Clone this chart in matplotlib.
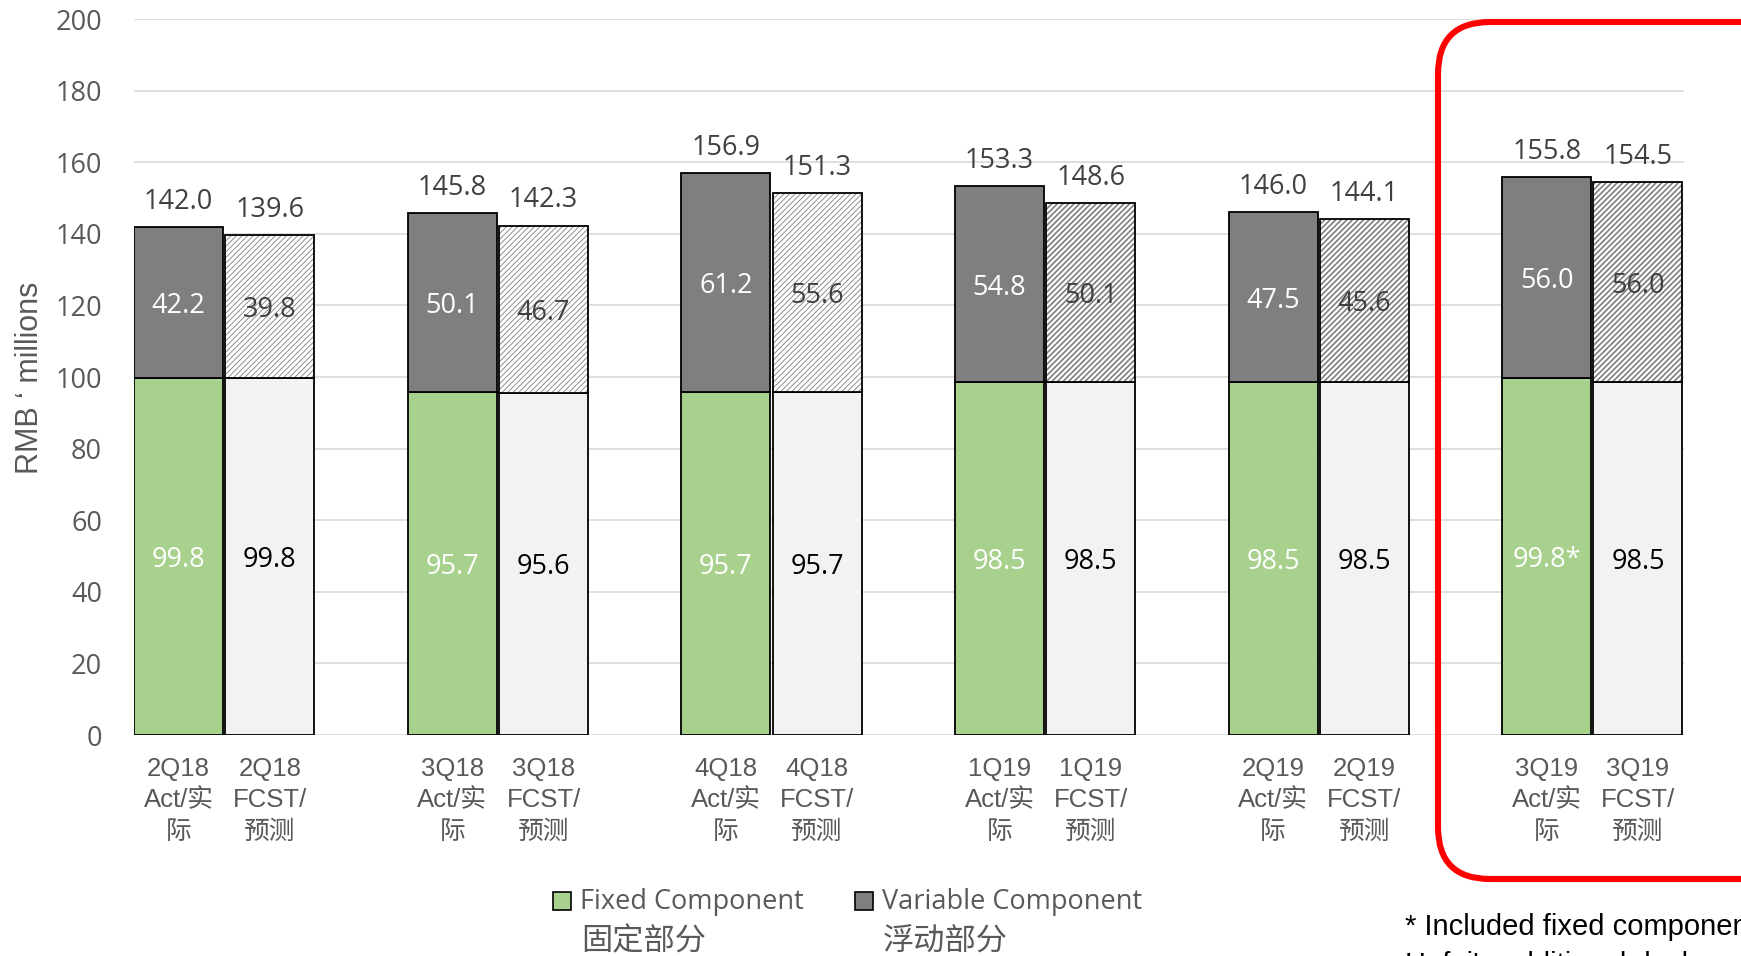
import matplotlib
matplotlib.use("Agg")
import matplotlib.pyplot as plt
import numpy as np
from matplotlib.patches import Rectangle, FancyBboxPatch
from matplotlib.transforms import IdentityTransform

# ---- data -------------------------------------------------------------
quarters = ["2Q18", "3Q18", "4Q18", "1Q19", "2Q19", "3Q19"]
fixed_act = [99.8, 95.7, 95.7, 98.5, 98.5, 99.8]
fixed_fcst = [99.8, 95.6, 95.7, 98.5, 98.5, 98.5]
var_act = [42.2, 50.1, 61.2, 54.8, 47.5, 56.0]
var_fcst = [39.8, 46.7, 55.6, 50.1, 45.6, 56.0]
total_act = [142.0, 145.8, 156.9, 153.3, 146.0, 155.8]
total_fcst = [139.6, 142.3, 151.3, 148.6, 144.1, 154.5]
fixed_act_labels = ["99.8", "95.7", "95.7", "98.5", "98.5", "99.8*"]
yticks = list(range(0, 201, 20))

# ---- styling ----------------------------------------------------------
GREEN = "#A9D18E"
DARK = "#7F7F7F"
LIGHT = "#F2F2F2"
TXT = "#404040"
TICK = "#595959"
NUM_FONT = ["Open Sans", "Noto Sans CJK SC", "DejaVu Sans"]
ARIAL = ["Liberation Sans", "Noto Sans CJK SC", "DejaVu Sans"]
NUM_SIZE = 19.5

W, H = 1741, 956
fig = plt.figure(figsize=(W / 100, H / 100), dpi=100)
ax = fig.add_axes([134 / W, 1 - 735 / H, (1684 - 134) / W, (735 - 19) / H])

g = np.arange(len(quarters))
off = 0.1667
bw = 0.325
xa = g - off
xf = g + off

edge_kw = dict(edgecolor="black", linewidth=1.3)

# actual bars
ax.bar(xa, fixed_act, bw, color=GREEN, zorder=3, **edge_kw)
ax.bar(xa, var_act, bw, bottom=fixed_act, color=DARK, zorder=3, **edge_kw)

# forecast bars
ax.bar(xf, fixed_fcst, bw, color=LIGHT, zorder=3, **edge_kw)
hatched = ax.bar(xf, var_fcst, bw, bottom=fixed_fcst, color="white",
                 hatch="//////", edgecolor=DARK, linewidth=0, zorder=3)
for i, p in enumerate(hatched):
    try:
        p.set_hatch_linewidth(0.6 if i < 3 else 1.2)
    except AttributeError:
        plt.rcParams["hatch.linewidth"] = 0.9
ax.bar(xf, var_fcst, bw, bottom=fixed_fcst, fill=False, zorder=4, **edge_kw)

# value labels
for i in range(len(quarters)):
    ax.annotate(f"{total_act[i]:.1f}", (xa[i], total_act[i]), xytext=(0, 8),
                textcoords="offset points", ha="center", va="bottom",
                fontsize=NUM_SIZE, color=TXT, family=NUM_FONT, zorder=5)
    ax.annotate(f"{total_fcst[i]:.1f}", (xf[i], total_fcst[i]), xytext=(0, 8),
                textcoords="offset points", ha="center", va="bottom",
                fontsize=NUM_SIZE, color=TXT, family=NUM_FONT, zorder=5)
    ax.text(xa[i], fixed_act[i] + var_act[i] / 2, f"{var_act[i]:.1f}",
            ha="center", va="center_baseline", fontsize=NUM_SIZE,
            color="white", family=NUM_FONT, zorder=5)
    ax.text(xf[i], fixed_fcst[i] + var_fcst[i] / 2, f"{var_fcst[i]:.1f}",
            ha="center", va="center_baseline", fontsize=NUM_SIZE, color=TXT,
            family=NUM_FONT, zorder=5)
    ax.text(xa[i], fixed_act[i] / 2, fixed_act_labels[i], ha="center",
            va="center_baseline", fontsize=NUM_SIZE, color="white",
            family=NUM_FONT, zorder=5)
    ax.text(xf[i], fixed_fcst[i] / 2, f"{fixed_fcst[i]:.1f}", ha="center",
            va="center_baseline", fontsize=NUM_SIZE, color="black",
            family=NUM_FONT, zorder=5)

# axes
ax.set_xlim(-0.33, len(quarters) - 1 + 0.335)
ax.set_ylim(0, 200)
ax.set_yticks(yticks)
ax.set_yticklabels([str(v) for v in yticks], family=NUM_FONT, fontsize=19.5,
                   color=TICK)
ax.tick_params(axis="y", length=0, pad=23)
ax.tick_params(axis="x", length=0, pad=16)

xt = np.concatenate([xa, xf])
xl = [f"{q}\nAct/实\n际" for q in quarters] + [f"{q}\nFCST/\n预测" for q in quarters]
ax.set_xticks(xt)
ax.set_xticklabels(xl, family=ARIAL, fontsize=18.5, color=TICK, linespacing=1.38)

ax.yaxis.grid(True, color="#D9D9D9", linewidth=1.2, zorder=0)
ax.set_axisbelow(True)
for s in ax.spines.values():
    s.set_visible(False)

fig.text(30 / W, 1 - 378 / H, "RMB ‘ millions", rotation=90, ha="center",
         va="center", fontsize=22, color=TICK, family=ARIAL)

# legend
def px(x, y):
    return x / W, 1 - y / H

for (sx, col, en, zh) in [(553, GREEN, "Fixed Component", "固定部分"),
                          (855, DARK, "Variable Component", "浮动部分")]:
    fig.patches.append(Rectangle(px(sx, 910), 18 / W, 18 / H, facecolor=col,
                                 edgecolor="black", linewidth=1.2,
                                 transform=fig.transFigure))
    fig.text(*px(sx + 27, 902), en, ha="left", va="center", fontsize=19.5,
             color=TICK, family=NUM_FONT)
    fig.text(*px(sx + 28, 941), zh, ha="left", va="center", fontsize=22.5,
             color=TICK, family=["Noto Sans CJK SC", "DejaVu Sans"])

# highlight box around the latest quarter
box = FancyBboxPatch((1438, H - 879), 420, 879 - 22,
                     boxstyle="round,pad=0,rounding_size=52",
                     transform=IdentityTransform(), facecolor="none",
                     edgecolor="#FF0000", linewidth=4.4, clip_on=False)
fig.patches.append(box)

# footnote
fig.text(*px(1405, 935), "* Included fixed component of", ha="left",
         va="baseline", fontsize=21, color="black", family=ARIAL)
fig.text(*px(1405, 973), "Hefei's additional dock", ha="left",
         va="baseline", fontsize=21, color="black", family=ARIAL)

fig.savefig("out.png", dpi=100)
